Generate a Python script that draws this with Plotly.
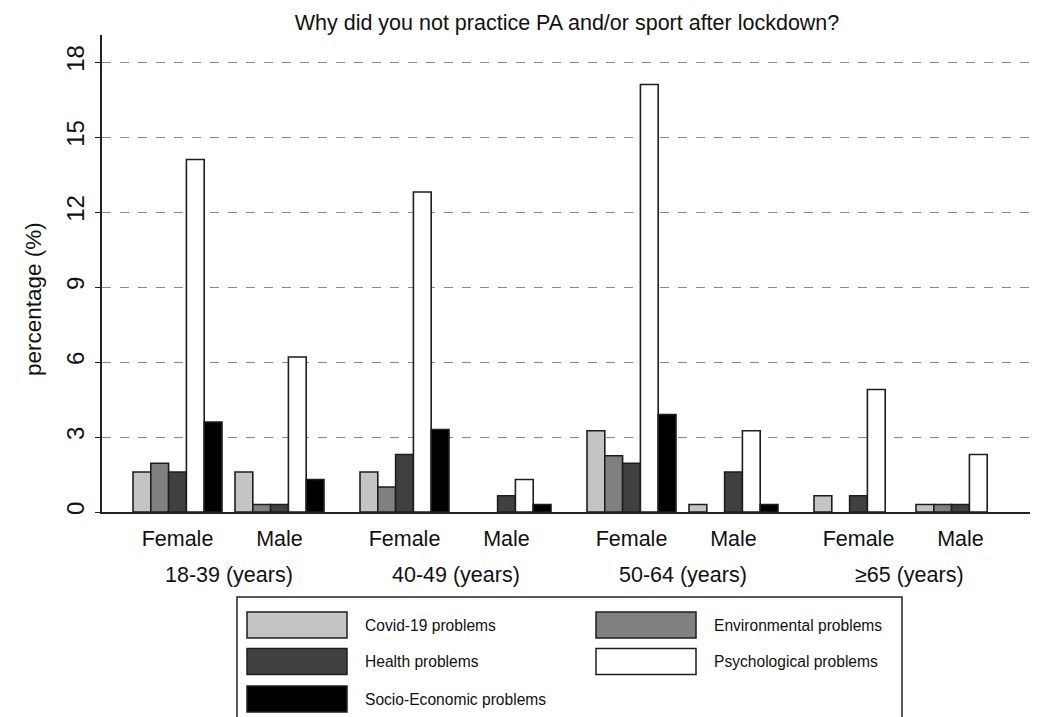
import plotly.graph_objects as go

# Age groups and sexes (clusters along the x axis)
age_groups = ["18-39 (years)", "40-49 (years)", "50-64 (years)", "≥65 (years)"]
sexes = ["Female", "Male"]

# Percentages per reason, ordered F/M within each age group
reasons = ["Covid-19 problems", "Environmental problems", "Health problems",
           "Psychological problems", "Socio-Economic problems"]
covid = [1.6, 1.6, 1.6, 0.0, 3.25, 0.3, 0.65, 0.3]
environmental = [1.95, 0.3, 1.0, 0.0, 2.25, 0.0, 0.0, 0.3]
health = [1.6, 0.3, 2.3, 0.65, 1.95, 1.6, 0.65, 0.3]
psychological = [14.1, 6.2, 12.8, 1.3, 17.1, 3.25, 4.9, 2.3]
socio_economic = [3.6, 1.3, 3.3, 0.3, 3.9, 0.3, 0.0, 0.0]
series = [covid, environmental, health, psychological, socio_economic]

y_ticks = [0, 3, 6, 9, 12, 15, 18]

fills = ["#c4c4c4", "#808080", "#404040", "#ffffff", "#000000"]
OUTLINE = "#1e1e1e"
FONT = "Liberation Sans, Arial, sans-serif"

# Figure geometry (pixels)
W, H = 1041, 717
ML, MR, MT, MB = 102, 11, 35, 205
PW, PH = W - ML - MR, H - MT - MB
Y_MAX = 19.08

# Cluster layout on a pixel-scaled x axis
BAR_W = 17.8
FIRST = 31.0
AGE_STEP = 227.0
SEX_STEP = 102.0
N_BARS = len(series)


def cluster_left(a, s):
    return FIRST + a * AGE_STEP + s * SEX_STEP


fig = go.Figure()

for k, (name, vals) in enumerate(zip(reasons, series)):
    xs, ys = [], []
    for a in range(len(age_groups)):
        for s in range(len(sexes)):
            xs.append(cluster_left(a, s) + (k + 0.5) * BAR_W)
    # empty categories get no bar at all
    ys = [v if v > 0 else None for v in vals]
    fig.add_trace(go.Bar(
        x=xs, y=ys, name=name, width=BAR_W,
        marker=dict(color=fills[k], line=dict(color=OUTLINE, width=1.6)),
        showlegend=False,
    ))

# Sex labels under each cluster
tick_x, tick_t = [], []
for a in range(len(age_groups)):
    for s, sx in enumerate(sexes):
        tick_x.append(cluster_left(a, s) + N_BARS * BAR_W / 2)
        tick_t.append(sx)

annotations = []
for a, g in enumerate(age_groups):
    cx = (cluster_left(a, 0) + cluster_left(a, 1) + N_BARS * BAR_W) / 2
    annotations.append(dict(x=cx, xref="x", y=(512 - 575) / PH, yref="paper",
                            text=g, showarrow=False, xanchor="center",
                            yanchor="middle", font=dict(size=21.5, color="#111")))

# Y axis title
annotations.append(dict(x=(33 - ML) / PW, xref="paper", y=(512 - 299) / PH,
                        yref="paper", text="percentage (%)", textangle=-90,
                        showarrow=False, xanchor="center", yanchor="middle",
                        font=dict(size=22.5, color="#111")))


# Legend drawn as a framed key
def px_x(px):
    return (px - ML) / PW


def px_y(py):
    return (512 - py) / PH


shapes = [dict(type="rect", xref="paper", yref="paper",
               x0=px_x(237), x1=px_x(902), y0=px_y(722), y1=px_y(597),
               line=dict(color="#222", width=1.5), fillcolor="rgba(0,0,0,0)")]

key_cols = [(247, 363), (596, 712)]
key_rows = [625, 661.5, 699]
order = [(0, 0), (0, 1), (1, 0), (1, 1), (2, 0)]
for k, (r, c) in enumerate(order):
    sx, tx = key_cols[c]
    cy = key_rows[r]
    shapes.append(dict(type="rect", xref="paper", yref="paper",
                       x0=px_x(sx), x1=px_x(sx + 100),
                       y0=px_y(cy + 13), y1=px_y(cy - 13),
                       line=dict(color=OUTLINE, width=1.5), fillcolor=fills[k]))
    annotations.append(dict(x=px_x(tx), xref="paper", y=px_y(cy), yref="paper",
                            text=reasons[k], showarrow=False, xanchor="left",
                            yanchor="middle", font=dict(size=15.6, color="#111")))

fig.update_layout(
    width=W, height=H,
    margin=dict(l=ML, r=MR, t=MT, b=MB, pad=0),
    paper_bgcolor="white", plot_bgcolor="white",
    font=dict(family=FONT, color="#111"),
    barmode="overlay",
    title=dict(text="Why did you not practice PA and/or sport after lockdown?",
               x=(567) / W, xanchor="center", y=1 - 22 / H, yanchor="middle",
               font=dict(size=21.5, color="#111")),
    xaxis=dict(range=[0, PW], tickvals=tick_x, ticktext=tick_t, ticks="",
               showgrid=False, zeroline=False, showline=True,
               linecolor="#222", linewidth=2,
               tickfont=dict(size=21.5, color="#111"), ticklabelstandoff=6),
    yaxis=dict(range=[0, Y_MAX], tickvals=y_ticks, ticks="outside", ticklen=5,
               tickcolor="#222", tickwidth=1.2, tickangle=-90,
               tickfont=dict(size=24, color="#111"),
               showline=True, linecolor="#222", linewidth=1.5,
               showgrid=True, gridcolor="#8a8a8a", griddash="dash",
               gridwidth=1, zeroline=False, ticklabelstandoff=2),
    yaxis2=dict(range=[0, Y_MAX], overlaying="y", side="left",
                tickvals=y_ticks, ticks="inside", ticklen=5, tickcolor="#222",
                tickwidth=1.2, showticklabels=False, showgrid=False,
                showline=False, zeroline=False),
    shapes=shapes,
    annotations=annotations,
)

fig.write_html("out.html")
